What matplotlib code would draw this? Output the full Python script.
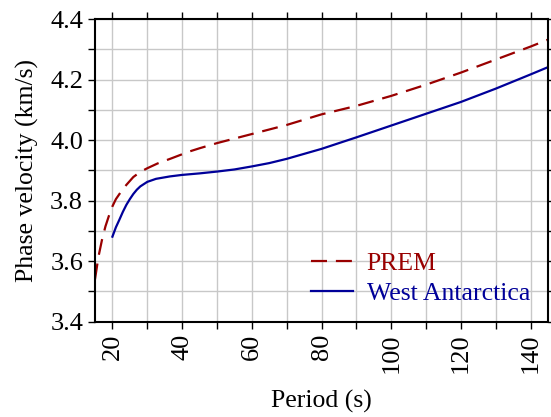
import numpy as np
import matplotlib.pyplot as plt
from matplotlib.ticker import MultipleLocator

plt.rcParams['font.family'] = ['Liberation Serif', 'DejaVu Serif']

# Dispersion curves
prem_period = [15, 16, 17, 18, 19, 20, 21, 22.5, 24, 26, 28, 30, 33, 37, 42, 45, 50, 55, 60, 70, 80, 90,
               100, 110, 115, 120, 130, 140, 145]
prem_vel = [3.54, 3.615, 3.67, 3.715, 3.75, 3.781, 3.805, 3.83, 3.852, 3.878, 3.895, 3.907, 3.923, 3.94,
            3.962, 3.973, 3.99, 4.005, 4.02, 4.05, 4.085, 4.113, 4.146, 4.183, 4.203, 4.223, 4.266, 4.309,
            4.332]

wa_period = [20, 21, 22, 23, 24, 25, 26, 27, 28, 30, 32.5, 36.5, 40, 45, 50, 55, 60, 65, 70, 80, 90,
             100, 110, 120, 130, 140, 145]
wa_vel = [3.681, 3.712, 3.737, 3.763, 3.786, 3.805, 3.822, 3.836, 3.847, 3.862, 3.872, 3.880, 3.885,
          3.890, 3.896, 3.903, 3.913, 3.924, 3.938, 3.971, 4.009, 4.048, 4.087, 4.126, 4.17, 4.217, 4.241]

fig = plt.figure(figsize=(5.51, 4.17), dpi=100)
ax = fig.add_axes([0.1724, 0.2285, 0.8222, 0.7259])

ax.plot(prem_period, prem_vel, color='#990000', lw=1.6, dashes=(7.2, 4), label='PREM')
ax.plot(wa_period, wa_vel, color='#000099', lw=1.6, label='West Antarctica')

ax.set_xlim(15, 145)
ax.set_ylim(3.4, 4.4)
ax.xaxis.set_major_locator(MultipleLocator(20))
ax.xaxis.set_minor_locator(MultipleLocator(10))
ax.yaxis.set_major_locator(MultipleLocator(0.2))
ax.yaxis.set_minor_locator(MultipleLocator(0.1))
ax.yaxis.set_major_formatter(lambda v, p: f'{v:.1f}')
ax.grid(True, which='both', color='#c8c8c8', lw=1)
ax.set_axisbelow(True)
ax.tick_params(which='both', direction='out', length=5, width=1, top=True, right=True, labelsize=19)
ax.tick_params(axis='x', labelrotation=90)
for s in ax.spines.values():
    s.set_linewidth(1.5)

ax.set_xlabel('Period (s)', fontsize=18.5, labelpad=12)
ax.set_ylabel('Phase velocity (km/s)', fontsize=18.5, labelpad=8)

leg = ax.legend(loc='lower right', frameon=False, fontsize=18.5, handlelength=1.63,
                handletextpad=0.55, labelspacing=0.27, borderaxespad=0.3, bbox_to_anchor=(1.0, -0.005))
for txt, line in zip(leg.get_texts(), leg.get_lines()):
    txt.set_color(line.get_color())

fig.savefig('out.png', dpi=100)
